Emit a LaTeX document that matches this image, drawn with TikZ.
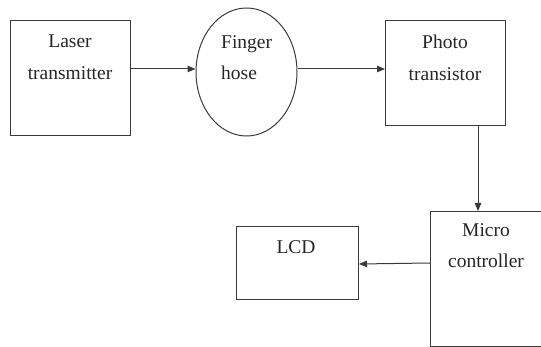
\documentclass[tikz,border=0pt]{standalone}
\usepackage{fontspec}
\setmainfont{Liberation Serif}
\newfontfamily\diagfont{Liberation Serif}
\usetikzlibrary{arrows.meta,shapes.geometric}
\definecolor{linegray}{HTML}{3A3A3A}
\begin{document}
\begin{tikzpicture}[x=1pt,y=-1pt,
  box/.style={draw=linegray, line width=1pt, inner sep=0pt, anchor=north west},
  lbl/.style={font=\diagfont\fontsize{19.5}{31.5}\selectfont, text=black!85, align=center, inner sep=0pt, anchor=north},
  arr/.style={draw=linegray, line width=1pt, -{Triangle[length=8pt,width=6.5pt]}}]
\useasboundingbox (0,0) rectangle (541,347);
% boxes
\node[box, minimum width=120pt, minimum height=115pt] (laser) at (10,20) {};
\node[draw=linegray, line width=1pt, ellipse, inner sep=0pt, minimum width=101pt, minimum height=128pt] (finger) at (246.5,72) {};
\node[box, minimum width=120pt, minimum height=105pt] (photo) at (385,20) {};
\node[box, minimum width=111pt, minimum height=135pt] (micro) at (430,211) {};
\node[box, minimum width=122pt, minimum height=73pt] (lcd) at (236,226) {};
% texts
\node[lbl] (tlaser) at (70,35) {Laser\\transmitter};
\node[lbl, align=left, anchor=north west] (tfinger) at (221,35) {Finger\\hose};
\node[lbl] (tphoto) at (445,35) {Photo\\transistor};
\node[lbl] (tmicro) at (486,223) {Micro\\controller};
\node[lbl] (tlcd) at (296,240) {LCD};
% connectors
\coordinate (a1) at (130,69);
\draw[arr] (laser.east |- a1) -- (finger.west |- a1);
\draw[arr] (finger.east |- a1) -- (photo.west |- a1);
\coordinate (c1) at (478,0);
\draw[arr] (photo.south -| c1) -- (micro.north -| c1);
\draw[arr] (micro.west |- 0,263) -- (lcd.east |- 0,264);
\end{tikzpicture}
\end{document}
